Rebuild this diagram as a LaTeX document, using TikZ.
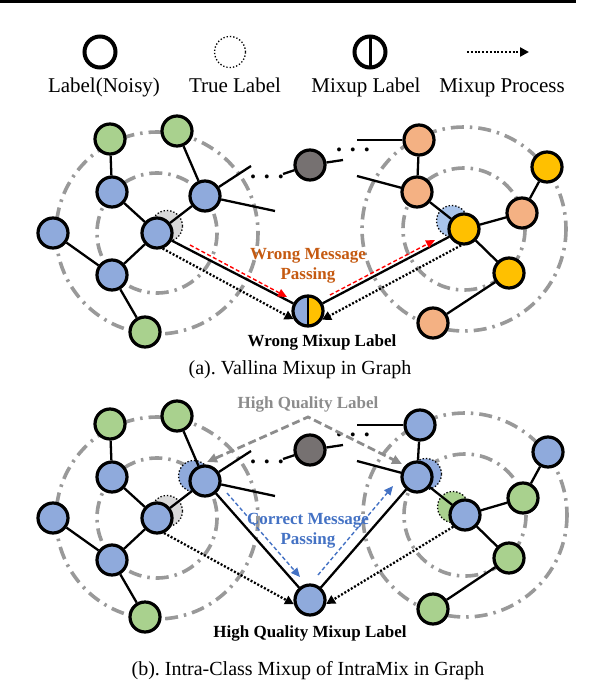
\documentclass[tikz,border=0pt]{standalone}
\usepackage{fontspec}
\setmainfont{Liberation Serif}
\usetikzlibrary{arrows.meta, positioning, backgrounds}
\definecolor{nodeblue}{HTML}{8FAADC}
\definecolor{nodegreen}{HTML}{A9D18E}
\definecolor{nodeorange}{HTML}{F4B183}
\definecolor{nodeyellow}{HTML}{FFC000}
\definecolor{nodegray}{HTML}{767171}
\definecolor{shadegray}{HTML}{D9D9D9}
\definecolor{shadeblue}{HTML}{A9C4EB}
\definecolor{ringgray}{HTML}{999999}
\definecolor{wrongcol}{HTML}{C55A11}
\definecolor{correctcol}{HTML}{4472C4}
\definecolor{hqgray}{HTML}{8C8C8C}

\begin{document}
\begin{tikzpicture}[
    x=1pt, y=-1pt,
    vnode/.style={circle, draw=black, line width=3.2pt, minimum size=30pt, inner sep=0pt},
    bnode/.style={vnode, fill=nodeblue},
    gnode/.style={vnode, fill=nodegreen},
    onode/.style={vnode, fill=nodeorange},
    ynode/.style={vnode, fill=nodeyellow},
    knode/.style={vnode, fill=nodegray},
    mixnode/.style={vnode, path picture={
        \fill[nodeblue] (path picture bounding box.south west) rectangle (path picture bounding box.north);
        \fill[nodeyellow] (path picture bounding box.south) rectangle (path picture bounding box.north east);
        \draw[line width=2.6pt] (path picture bounding box.south) -- (path picture bounding box.north);}},
    truelab/.style={circle, draw=black, dotted, line width=1.3pt, minimum size=31pt, inner sep=0pt},
    ring/.style={ringgray, line width=3.6pt, dash pattern=on 13pt off 6pt on 2.5pt off 6pt},
    link/.style={line width=2.3pt},
    mixarr/.style={line width=2.3pt, dash pattern=on 2pt off 1.8pt, -{Triangle[length=9pt,width=9pt]}},
    wrongarr/.style={red, line width=1.4pt, dash pattern=on 4pt off 2.5pt, -{Triangle[length=9pt,width=8pt]}},
    correctarr/.style={correctcol, line width=1.4pt, dash pattern=on 4pt off 2.5pt, -{Triangle[length=9pt,width=8pt]}},
    hqarr/.style={hqgray, line width=2.8pt, dash pattern=on 8pt off 4pt, {Triangle[length=10pt,width=9pt]}-{Triangle[length=10pt,width=9pt]}},
    dotstxt/.style={font=\fontsize{24}{24}\selectfont\bfseries, inner sep=0pt},
    legtxt/.style={font=\fontsize{21}{25}\selectfont, anchor=base},
    captxt/.style={font=\fontsize{20}{24}\selectfont, anchor=base},
    tagtxt/.style={font=\fontsize{17}{20}\selectfont\bfseries, align=center}
]
\useasboundingbox (0,0) rectangle (604,682);
\draw[line width=3.5pt] (0,1.5) -- (576,1.5);

% legend
\node[vnode, line width=4pt, minimum size=31pt, fill=white] (legNoisy) at (100,52) {};
\node[truelab, fill=white] (legTrue) at (230,52) {};
\node[vnode, line width=4pt, minimum size=31pt, fill=white, path picture={
    \draw[line width=3pt] (path picture bounding box.south) -- (path picture bounding box.north);}] (legMix) at (370,52) {};
\coordinate (legArrS) at (467,52);
\coordinate (legArrE) at (529,52);
\draw[mixarr] (legArrS) -- (legArrE);
\node[legtxt] at (104,93) {Label(Noisy)};
\node[legtxt] at (235,93) {True Label};
\node[legtxt] at (366,93) {Mixup Label};
\node[legtxt] at (502,93) {Mixup Process};

% (a) vallina mixup
\node[gnode] (G1a) at (110,139) {};
\node[gnode] (G2a) at (177,131) {};
\node[bnode] (B1a) at (112,192) {};
\node[bnode] (B2a) at (205,196) {};
\node[bnode] (B0a) at (53,233) {};
\node[bnode] (Ca) at (157,233) {};
\node[bnode] (B3a) at (112,275) {};
\node[gnode] (G3a) at (145,332) {};
\node[knode] (Ka) at (310,165) {};
\node[onode] (O1a) at (419,140) {};
\node[onode] (O2a) at (417,192) {};
\node[ynode] (Ya) at (464,229) {};
\node[ynode] (Y1a) at (547,167) {};
\node[onode] (O3a) at (522,213) {};
\node[ynode] (Y2a) at (509,273) {};
\node[onode] (O4a) at (433,323) {};
\node[mixnode] (mixA) at (308,311) {};
\node[dotstxt] (dotsA1) at (267,177) {. . .};
\node[dotstxt] (dotsA2) at (353,150) {. . .};
\coordinate (stA1) at (251,166);
\coordinate (stA2) at (275,211);
\coordinate (gsA1) at (283,174);
\coordinate (gsA2) at (343,160);
\coordinate (rsA1) at (357,140);
\coordinate (rsA2) at (357,176);

\draw[link] (G1a) -- (B1a);
\draw[link] (G2a) -- (B2a);
\draw[link] (B1a) -- (Ca);
\draw[link] (B2a) -- (Ca);
\draw[link] (B0a) -- (B3a);
\draw[link] (B3a) -- (Ca);
\draw[link] (B3a) -- (G3a);
\draw[link] (B2a) -- (stA1);
\draw[link] (B2a) -- (stA2);
\draw[link] (gsA1) -- (Ka);
\draw[link] (Ka) -- (gsA2);
\draw[link] (rsA1) -- (O1a);
\draw[link] (rsA2) -- (O2a);
\draw[link] (O1a) -- (O2a);
\draw[link] (O2a) -- (Ya);
\draw[link] (Ya) -- (O3a);
\draw[link] (O3a) -- (Y1a);
\draw[link] (Ya) -- (Y2a);
\draw[link] (Y2a) -- (O4a);
\draw[link] (Ca) -- (mixA);
\draw[link] (Ya) -- (mixA);
\draw[mixarr] (Ca.-70) -- (mixA.-150);
\draw[mixarr] (Ya.-100) -- (mixA.-32);

\coordinate (wrA1) at (190,245);
\coordinate (wrA2) at (287,297);
\coordinate (wrB1) at (330,295);
\coordinate (wrB2) at (435,240);
\draw[wrongarr] (wrA1) -- (wrA2);
\draw[wrongarr] (wrB1) -- (wrB2);
\node[tagtxt, text=wrongcol] (wrongTxt) at (308,266) {Wrong Message\\Passing};
\node[tagtxt, anchor=base] (wrongMix) at (322,346) {Wrong Mixup Label};
\node[captxt] (capA) at (300,374) {(a).\ Vallina Mixup in Graph};

% (b) intra-class mixup
\node[gnode] (G1b) at (110,424) {};
\node[gnode] (G2b) at (177,416) {};
\node[bnode] (B1b) at (112,477) {};
\node[bnode] (B2b) at (205,481) {};
\node[bnode] (B0b) at (53,518) {};
\node[bnode] (Cb) at (157,518) {};
\node[bnode] (B3b) at (112,560) {};
\node[gnode] (G3b) at (145,617) {};
\node[knode] (Kb) at (310,450) {};
\node[bnode] (O1b) at (420,425) {};
\node[bnode] (O2b) at (417,477) {};
\node[bnode] (Yb) at (465,515) {};
\node[bnode] (Y1b) at (548,452) {};
\node[gnode] (O3b) at (523,498) {};
\node[gnode] (Y2b) at (509,558) {};
\node[gnode] (O4b) at (433,609) {};
\node[bnode] (mixB) at (310,600) {};
\node[dotstxt] (dotsB1) at (267,462) {. . .};
\node[dotstxt] (dotsB2) at (353,435) {. . .};
\coordinate (stB1) at (251,451);
\coordinate (stB2) at (275,496);
\coordinate (gsB1) at (283,459);
\coordinate (gsB2) at (343,445);
\coordinate (rsB1) at (357,425);
\coordinate (rsB2) at (357,461);

\draw[link] (G1b) -- (B1b);
\draw[link] (G2b) -- (B2b);
\draw[link] (B1b) -- (Cb);
\draw[link] (B2b) -- (Cb);
\draw[link] (B0b) -- (B3b);
\draw[link] (B3b) -- (Cb);
\draw[link] (B3b) -- (G3b);
\draw[link] (B2b) -- (stB1);
\draw[link] (B2b) -- (stB2);
\draw[link] (gsB1) -- (Kb);
\draw[link] (Kb) -- (gsB2);
\draw[link] (rsB1) -- (O1b);
\draw[link] (rsB2) -- (O2b);
\draw[link] (O1b) -- (O2b);
\draw[link] (O2b) -- (Yb);
\draw[link] (Yb) -- (O3b);
\draw[link] (O3b) -- (Y1b);
\draw[link] (Yb) -- (Y2b);
\draw[link] (Y2b) -- (O4b);
\draw[link] (B2b) -- (mixB);
\draw[link] (O2b) -- (mixB);
\draw[mixarr] (Cb.-65) -- (mixB.-165);
\draw[mixarr] (Yb.-135) -- (mixB.-14);

\coordinate (coA1) at (227,493);
\coordinate (coA2) at (300,577);
\coordinate (coB1) at (318,575);
\coordinate (coB2) at (393,486);
\draw[correctarr] (coA1) -- (coA2);
\draw[correctarr] (coB1) -- (coB2);
\coordinate (hqL) at (207,462);
\coordinate (hqTop) at (308,417);
\coordinate (hqR) at (402,464);
\draw[hqarr] (hqL) -- (hqTop) -- (hqR);
\node[tagtxt, text=hqgray, anchor=base] (hqTxt) at (308,408) {High Quality Label};
\node[tagtxt, text=correctcol] (correctTxt) at (308,531) {Correct Message\\Passing};
\node[tagtxt, anchor=base] (hqMix) at (310,637) {High Quality Mixup Label};
\node[captxt] (capB) at (308,675) {(b).\ Intra-Class Mixup of IntraMix in Graph};

\begin{scope}[on background layer]
\draw[ring] (Ca) circle[radius=101];
\draw[ring] (Ca) circle[radius=60];
\draw[ring] (Ya) circle[radius=102];
\draw[ring] (Ya) circle[radius=61];
\draw[ring] (Cb) circle[radius=101];
\draw[ring] (Cb) circle[radius=60];
\draw[ring] (Yb) circle[radius=102];
\draw[ring] (Yb) circle[radius=61];
\node[truelab, fill=shadegray] (tCa) at (167,226) {};
\node[truelab, fill=shadeblue] (tYa) at (452,221) {};
\node[truelab, fill=nodeblue] (tB2b) at (194,476) {};
\node[truelab, fill=shadegray] (tCb) at (167,511) {};
\node[truelab, fill=nodeblue] (tO2b) at (426,474) {};
\node[truelab, fill=nodegreen] (tYb) at (453,507) {};
\end{scope}
\end{tikzpicture}
\end{document}
